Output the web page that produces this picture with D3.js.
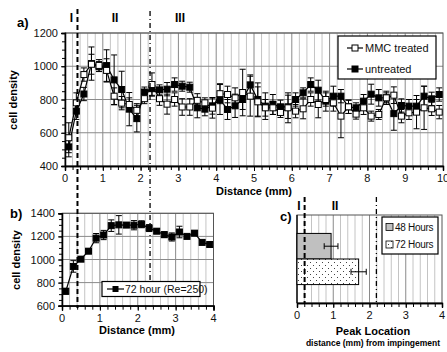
<!DOCTYPE html>
<html><head><meta charset="utf-8">
<script src="https://cdn.jsdelivr.net/npm/d3@7"></script>
<style>
body{margin:0;background:#fff;}
svg{display:block;font-family:"Liberation Sans",Arial,sans-serif;}
</style></head>
<body>
<svg id="chart" width="447" height="352"></svg>
<script>
// ---------- DATA ----------
const distA = [0.1,0.3,0.5,0.7,0.9,1.1,1.3,1.5,1.7,1.9,2.1,2.3,2.5,2.7,2.9,3.1,3.3,3.5,3.7,3.9,4.1,4.3,4.5,4.7,4.9,5.1,5.3,5.5,5.7,5.9,6.1,6.3,6.5,6.7,6.9,7.1,7.3,7.5,7.7,7.9,8.1,8.3,8.5,8.7,8.9,9.1,9.3,9.5,9.7,9.9];
const mmcTreated = [570,780,950,1012,1005,975,820,778,770,735,805,890,805,772,800,755,755,795,780,748,835,830,810,842,820,786,750,750,722,750,730,744,800,770,800,780,700,756,712,750,700,710,810,826,700,720,724,750,744,724];
const mmcErr = [90,60,40,60,35,70,50,40,40,40,30,70,40,60,40,50,50,40,30,60,60,50,60,140,120,90,50,40,30,90,40,60,40,80,40,50,130,40,30,40,30,30,40,50,40,40,100,130,40,40];
const untreated = [515,730,833,1016,998,1004,918,860,742,685,845,865,858,862,890,880,874,750,742,762,800,740,762,800,888,800,760,770,756,756,800,840,890,856,790,820,820,756,750,790,832,810,810,715,764,760,760,820,804,830];
const untreatedErr = [60,50,40,100,30,95,150,110,100,80,30,40,30,40,40,30,30,60,40,50,90,60,70,60,60,100,80,60,40,70,40,30,40,60,60,60,40,40,30,40,60,50,30,100,40,40,40,60,40,40];
const seriesNamesA = ["MMC treated","untreated"];
const xTicksA = [0,1,2,3,4,5,6,7,8,9,10];
const yTicksA = [400,600,800,1000,1200];

const distB = [0.1,0.3,0.5,0.7,0.9,1.1,1.3,1.5,1.7,1.9,2.1,2.3,2.5,2.7,2.9,3.1,3.3,3.5,3.7,3.9];
const hour72 = [725,940,1003,1072,1185,1212,1293,1300,1298,1297,1305,1272,1245,1215,1195,1238,1200,1228,1148,1130];
const hour72Err = [25,50,20,20,40,40,50,80,20,40,30,30,20,25,35,50,15,20,15,15];
const seriesNameB = "72 hour (Re=250)";
const xTicksB = [0,1,2,3,4];
const yTicksB = [600,800,1000,1200,1400];

const peakGroups = ["48 Hours","72 Hours"];
const peakLocation = [0.94,1.70];
const peakErr = [0.19,0.21];
const xTicksC = [0,1,2,3,4];

const regionLabels = ["I","II","III"];
const regionBoundA = [0.33,2.25];   // in panel a distance units
const regionBoundC = [0.21,2.19];   // in panel c distance units

// ---------- DRAW ----------
const svg = d3.select("#chart");
const FONT = "'Liberation Sans',Arial,sans-serif";
const minorGrid = "#c4c4c4", majorGrid = "#8a8a8a";

function panelGrid(g, x, y, xMax, yMin, yMax, yStep){
  const [x0,x1] = x.range(), [y0,y1] = y.range();
  const minorX = d3.range(1, xMax*5).map(k=>k/5).filter(v => Math.abs(v-Math.round(v))>0.01);
  g.selectAll(".vmin").data(minorX).join("line").attr("class","vmin")
    .attr("x1",d=>x(d)).attr("x2",d=>x(d)).attr("y1",y0).attr("y2",y1)
    .attr("stroke",minorGrid).attr("stroke-width",1);
  g.selectAll(".vmaj").data(d3.range(1,xMax)).join("line").attr("class","vmaj")
    .attr("x1",d=>x(d)).attr("x2",d=>x(d)).attr("y1",y0).attr("y2",y1)
    .attr("stroke",majorGrid).attr("stroke-width",1);
  if (yStep){
    g.selectAll(".hmaj").data(d3.range(yMin+yStep, yMax+1, yStep)).join("line").attr("class","hmaj")
      .attr("x1",x0).attr("x2",x1).attr("y1",d=>y(d)).attr("y2",d=>y(d))
      .attr("stroke",majorGrid).attr("stroke-width",1);
  }
  g.append("rect").attr("x",x0).attr("y",y1).attr("width",x1-x0).attr("height",y0-y1)
    .attr("fill","none").attr("stroke","#555").attr("stroke-width",1);
}

function styleAxis(a){
  a.selectAll("path").attr("stroke","#000").attr("stroke-width",1.3);
  a.selectAll("line").attr("stroke","#000");
  a.selectAll("text").attr("font-size",11).attr("font-family",FONT).attr("fill","#111");
}

function axes(g, x, y, xTicks, yTicks, xMax, yMinorStep, drawY){
  const [y0] = y.range();
  const xmin = g.append("g").attr("transform",`translate(0,${y0})`);
  xmin.call(d3.axisBottom(x).tickValues(d3.range(0, xMax*5+1).map(k=>k/5)).tickSize(4).tickFormat(""));
  styleAxis(xmin);
  const xa = g.append("g").attr("transform",`translate(0,${y0})`);
  xa.call(d3.axisBottom(x).tickValues(xTicks).tickSize(5).tickFormat(""));
  styleAxis(xa);
  g.append("g").selectAll("text").data(xTicks).join("text")
    .attr("x",d=>x(d)).attr("y",y0+16).attr("text-anchor","middle").text(d=>d)
    .attr("font-size",11).attr("font-family",FONT).attr("fill","#111");
  if (drawY){
    const [x0] = x.range();
    if (yMinorStep){
      const ymin = g.append("g").attr("transform",`translate(${x0},0)`);
      ymin.call(d3.axisLeft(y).tickValues(d3.range(y.domain()[0], y.domain()[1]+1, yMinorStep)).tickSize(3).tickFormat(""));
      styleAxis(ymin);
    }
    const ya = g.append("g").attr("transform",`translate(${x0},0)`);
    ya.call(d3.axisLeft(y).tickValues(yTicks).tickSize(4).tickFormat(d3.format("d")));
    styleAxis(ya);
  }
}

function errBars(g, x, y, xs, vals, errs, cap){
  const d = xs.map((v,i)=>({x:v, v:vals[i], e:errs[i]}));
  const eg = g.append("g").attr("stroke","#000").attr("stroke-width",1);
  eg.selectAll(".ev").data(d).join("line").attr("class","ev")
    .attr("x1",p=>x(p.x)).attr("x2",p=>x(p.x)).attr("y1",p=>y(p.v-p.e)).attr("y2",p=>y(p.v+p.e));
  eg.selectAll(".et").data(d).join("line").attr("class","et")
    .attr("x1",p=>x(p.x)-cap).attr("x2",p=>x(p.x)+cap).attr("y1",p=>y(p.v+p.e)).attr("y2",p=>y(p.v+p.e));
  eg.selectAll(".eb").data(d).join("line").attr("class","eb")
    .attr("x1",p=>x(p.x)-cap).attr("x2",p=>x(p.x)+cap).attr("y1",p=>y(p.v-p.e)).attr("y2",p=>y(p.v-p.e));
}

function series(g, x, y, xs, vals, fill, size){
  const d = xs.map((v,i)=>({x:v, v:vals[i]}));
  g.append("path").datum(d)
    .attr("d", d3.line().x(p=>x(p.x)).y(p=>y(p.v)))
    .attr("fill","none").attr("stroke","#000").attr("stroke-width",1.2);
  g.append("g").selectAll("rect").data(d).join("rect")
    .attr("x",p=>x(p.x)-size/2).attr("y",p=>y(p.v)-size/2)
    .attr("width",size).attr("height",size)
    .attr("fill",fill).attr("stroke","#000").attr("stroke-width",1);
}

// ===== Panel a =====
const xA = d3.scaleLinear().domain([0,10]).range([65,443]);
const yA = d3.scaleLinear().domain([400,1200]).range([166,33]);
const gA = svg.append("g");
panelGrid(gA, xA, yA, 10, 400, 1200, 200);
axes(gA, xA, yA, xTicksA, yTicksA, 10, 50, true);
errBars(gA, xA, yA, distA, mmcTreated, mmcErr, 3);
errBars(gA, xA, yA, distA, untreated, untreatedErr, 3);
series(gA, xA, yA, distA, untreated, "#000", 6);
series(gA, xA, yA, distA, mmcTreated, "#fff", 6);

const legA = gA.append("g");
legA.append("rect").attr("x",338).attr("y",36).attr("width",98).attr("height",43)
  .attr("fill","#fff").attr("stroke","#000").attr("stroke-width",1.2);
seriesNamesA.forEach((n,i)=>{
  const yy = 48 + i*21;
  legA.append("line").attr("x1",347).attr("x2",363).attr("y1",yy).attr("y2",yy).attr("stroke","#000").attr("stroke-width",1.2);
  legA.append("rect").attr("x",352).attr("y",yy-3).attr("width",6).attr("height",6)
    .attr("fill", i===0?"#fff":"#000").attr("stroke","#000");
  legA.append("text").attr("x",365).attr("y",yy+4).text(n)
    .attr("font-size",11).attr("font-family",FONT).attr("fill","#111");
});

gA.append("text").attr("x",17).attr("y",27).text("a)").attr("font-size",13).attr("font-weight","bold").attr("font-family",FONT);
gA.append("text").attr("transform","translate(17,100) rotate(-90)").attr("text-anchor","middle")
  .text("cell density").attr("font-size",11).attr("font-weight","bold").attr("font-family",FONT);
gA.append("text").attr("x",254).attr("y",195).attr("text-anchor","middle")
  .text("Distance (mm)").attr("font-size",11).attr("font-weight","bold").attr("font-family",FONT);

// ===== Panel b =====
const xB = d3.scaleLinear().domain([0,4]).range([62,213.5]);
const yB = d3.scaleLinear().domain([600,1400]).range([305.7,213.3]);
const gB = svg.append("g");
panelGrid(gB, xB, yB, 4, 600, 1400, 200);
axes(gB, xB, yB, xTicksB, yTicksB, 4, 50, true);

const gL = svg.append("g");
gL.append("line").attr("x1",xA(regionBoundA[0])).attr("x2",xA(regionBoundA[0])).attr("y1",9).attr("y2",308)
  .attr("stroke","#000").attr("stroke-width",2).attr("stroke-dasharray","5,3");
gL.append("line").attr("x1",xA(regionBoundA[1])).attr("x2",xA(regionBoundA[1])).attr("y1",11).attr("y2",282)
  .attr("stroke","#000").attr("stroke-width",1.3).attr("stroke-dasharray","5,3,1,3");
[[71.5,regionLabels[0]],[115,regionLabels[1]],[180,regionLabels[2]]].forEach(([xx,t])=>{
  gL.append("text").attr("x",xx).attr("y",22).attr("text-anchor","middle").text(t)
    .attr("font-size",12).attr("font-weight","bold").attr("font-family",FONT);
});

errBars(gB, xB, yB, distB, hour72, hour72Err, 3);
series(gB, xB, yB, distB, hour72, "#000", 6);

const legB = gB.append("g");
legB.append("rect").attr("x",102).attr("y",281.5).attr("width",98).attr("height",15)
  .attr("fill","#fff").attr("stroke","#000").attr("stroke-width",1.2);
legB.append("line").attr("x1",107).attr("x2",124).attr("y1",289).attr("y2",289).attr("stroke","#000").attr("stroke-width",1.2);
legB.append("rect").attr("x",112.5).attr("y",286).attr("width",6).attr("height",6).attr("fill","#000");
legB.append("text").attr("x",125).attr("y",293).text(seriesNameB)
  .attr("font-size",10.5).attr("font-family",FONT).attr("fill","#111");

gB.append("text").attr("x",10).attr("y",218).text("b)").attr("font-size",13).attr("font-weight","bold").attr("font-family",FONT);
gB.append("text").attr("transform","translate(20,260) rotate(-90)").attr("text-anchor","middle")
  .text("cell density").attr("font-size",11).attr("font-weight","bold").attr("font-family",FONT);
gB.append("text").attr("x",137).attr("y",334).attr("text-anchor","middle")
  .text("Distance (mm)").attr("font-size",11).attr("font-weight","bold").attr("font-family",FONT);

// ===== Panel c =====
const defs = svg.append("defs");
const pat = defs.append("pattern").attr("id","dots").attr("patternUnits","userSpaceOnUse")
  .attr("width",6).attr("height",6);
pat.append("rect").attr("width",6).attr("height",6).attr("fill","#fff");
pat.append("rect").attr("x",1).attr("y",1).attr("width",1).attr("height",1).attr("fill","#444");
pat.append("rect").attr("x",4).attr("y",4).attr("width",1).attr("height",1).attr("fill","#444");

const xC = d3.scaleLinear().domain([0,4]).range([297,442]);
const yCr = d3.scaleLinear().domain([0,1]).range([303,215]);
const yC = d3.scaleBand().domain(peakGroups).range([215,303]).paddingInner(0).paddingOuter(0.72);
const gC = svg.append("g");
panelGrid(gC, xC, yCr, 4, 0, 1, 0);
axes(gC, xC, yCr, xTicksC, null, 4, 0, false);
gC.append("line").attr("x1",297).attr("x2",297).attr("y1",215).attr("y2",303).attr("stroke","#000").attr("stroke-width",1.3);

const fills = ["#c0c0c0","url(#dots)"];
gC.append("g").selectAll("rect").data(peakGroups).join("rect")
  .attr("x",xC(0)).attr("y",d=>yC(d)).attr("width",(d,i)=>xC(peakLocation[i])-xC(0)).attr("height",yC.bandwidth())
  .attr("fill",(d,i)=>fills[i]).attr("stroke","#000").attr("stroke-width",1);
peakGroups.forEach((d,i)=>{
  const cy = yC(d)+yC.bandwidth()/2;
  const lo = xC(peakLocation[i]-peakErr[i]), hi = xC(peakLocation[i]+peakErr[i]);
  gC.append("line").attr("x1",lo).attr("x2",hi).attr("y1",cy).attr("y2",cy).attr("stroke","#000");
  gC.append("line").attr("x1",lo).attr("x2",lo).attr("y1",cy-3).attr("y2",cy+3).attr("stroke","#000");
  gC.append("line").attr("x1",hi).attr("x2",hi).attr("y1",cy-3).attr("y2",cy+3).attr("stroke","#000");
});

gC.append("line").attr("x1",xC(regionBoundC[0])).attr("x2",xC(regionBoundC[0])).attr("y1",197).attr("y2",303)
  .attr("stroke","#000").attr("stroke-width",2).attr("stroke-dasharray","5,3");
gC.append("line").attr("x1",xC(regionBoundC[1])).attr("x2",xC(regionBoundC[1])).attr("y1",197).attr("y2",303)
  .attr("stroke","#000").attr("stroke-width",1.3).attr("stroke-dasharray","5,3,1,3");
gC.append("text").attr("x",299).attr("y",210).attr("text-anchor","middle").text(regionLabels[0])
  .attr("font-size",12).attr("font-weight","bold").attr("font-family",FONT);
gC.append("text").attr("x",335).attr("y",210).attr("text-anchor","middle").text(regionLabels[1])
  .attr("font-size",12).attr("font-weight","bold").attr("font-family",FONT);
gC.append("text").attr("x",280).attr("y",221).text("c)").attr("font-size",13).attr("font-weight","bold").attr("font-family",FONT);

const legC = gC.append("g");
legC.append("rect").attr("x",382).attr("y",217).attr("width",56).attr("height",37)
  .attr("fill","#fff").attr("stroke","#000").attr("stroke-width",1.2);
peakGroups.forEach((n,i)=>{
  const yy = 227 + i*17.5;
  legC.append("rect").attr("x",386).attr("y",yy-3.5).attr("width",7).attr("height",7)
    .attr("fill",fills[i]).attr("stroke","#000").attr("stroke-width",0.8);
  legC.append("text").attr("x",395).attr("y",yy+3.5).text(n)
    .attr("font-size",10).attr("font-family",FONT).attr("fill","#111").attr("letter-spacing","-0.3");
});

gC.append("text").attr("x",373).attr("y",335).attr("text-anchor","middle")
  .text("Peak Location").attr("font-size",11).attr("font-weight","bold").attr("font-family",FONT);
gC.append("text").attr("x",373).attr("y",346).attr("text-anchor","middle")
  .text("distance (mm) from impingement").attr("font-size",8.5).attr("font-weight","bold").attr("font-family",FONT);
</script>
</body></html>
